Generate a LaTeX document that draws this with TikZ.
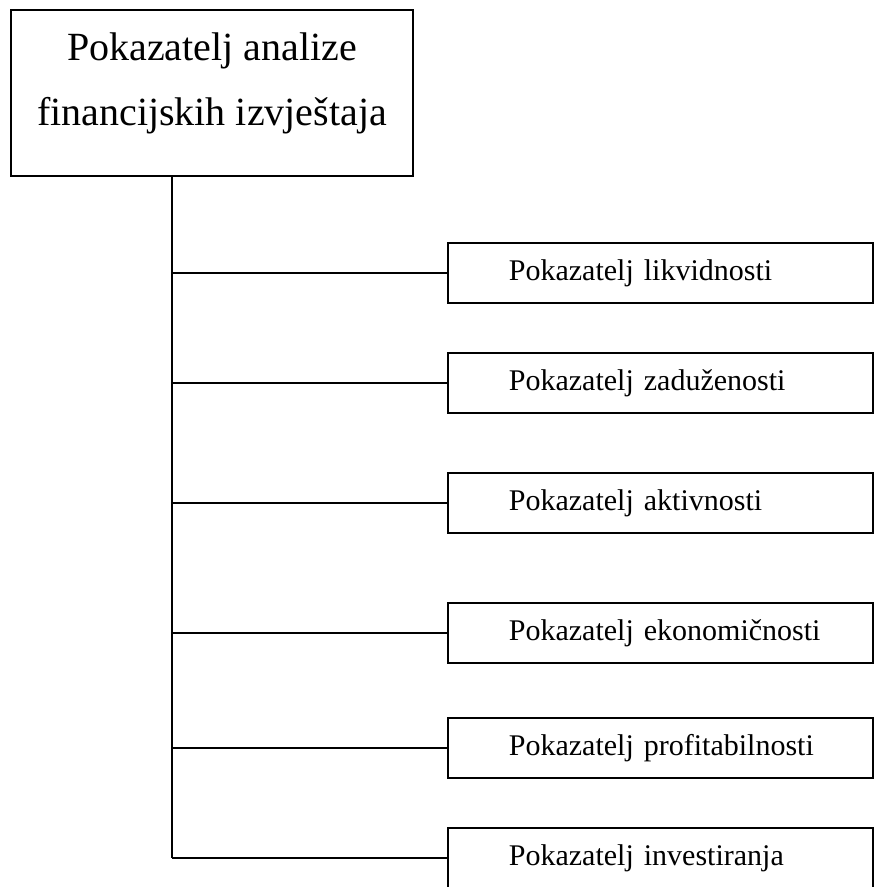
\documentclass[tikz,border=0pt]{standalone}
\usepackage{fontspec}
\setmainfont{Liberation Serif}
\newcommand{\drawline}{\draw[line width=1.3pt]}
\tikzset{
  glavni/.style={draw, line width=1.8pt, minimum width=402pt, minimum height=166pt,
    align=center, inner sep=0pt, text depth=27pt, font=\fontsize{40}{65}\selectfont},
  pokazatelj/.style={draw, line width=1.8pt, anchor=west, minimum height=60pt,
    text width=303pt, inner xsep=61pt, inner ysep=0pt, align=left,
    font=\fontsize{30}{36}\selectfont}
}
\begin{document}
\begin{tikzpicture}[x=1pt,y=-1pt]
\useasboundingbox (0,0) rectangle (874,887);
\node[glavni] (vrh) at (212,93) {Pokazatelj analize\\financijskih izvještaja};
\coordinate (deblo) at (172,177);
\foreach \ime/\y/\tekst in {lik/273/likvidnosti, zad/383/zaduženosti, akt/503/aktivnosti,
    eko/633/ekonomičnosti, pro/748/profitabilnosti, inv/858/investiranja}{
  \node[pokazatelj] (\ime) at (447,\y) {\mbox{Pokazatelj \tekst}};
  \coordinate (k-\ime) at (deblo |- \ime.west);
  \drawline (k-\ime) -- (\ime.west);
}
\drawline (vrh.south -| deblo) -- (k-inv);
\end{tikzpicture}
\end{document}
